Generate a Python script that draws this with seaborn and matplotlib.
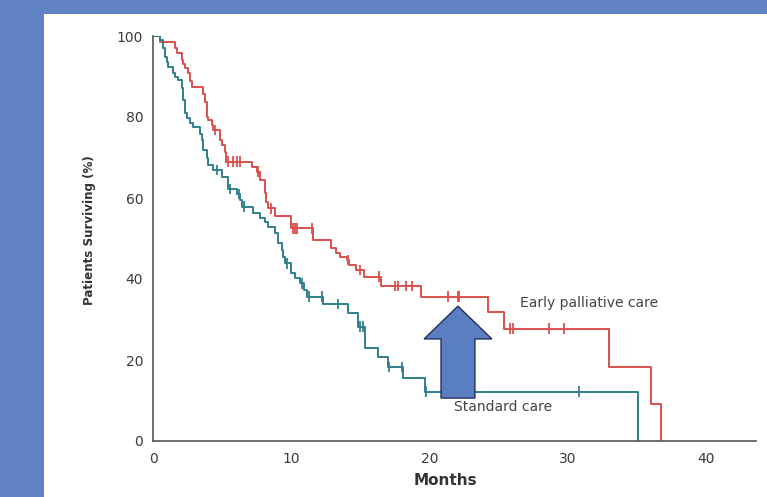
import numpy as np
import pandas as pd
import matplotlib
matplotlib.use("Agg")
import matplotlib.pyplot as plt
from matplotlib.patches import Rectangle, FancyArrow
import seaborn as sns

# ---- data ----
early_t = [0, 0.5, 1.6, 1.7, 2.07, 2.2, 2.3, 2.55, 2.7, 2.8, 3.6, 3.76, 3.88, 4.0, 4.24, 4.36,
           4.84, 4.97, 5.2, 5.28, 7.14, 7.5, 7.74, 8.1, 8.2, 8.34, 8.8, 10.0, 11.6, 12.9, 13.2,
           13.5, 14.0, 14.2, 14.7, 15.25, 16.5, 19.35, 24.25, 25.4, 33.0, 36.0, 36.7]
early_s = [100, 98.5, 97, 95.7, 94, 93.2, 92, 90.8, 89, 87.5, 85.8, 83.8, 80.1, 79.3, 78, 76.8,
           74.3, 73.1, 71.4, 69.0, 67.7, 66.5, 64.4, 61.2, 59.1, 57.5, 55.6, 52.5, 49.6, 47.6, 46.3,
           45.5, 44.7, 43.5, 42.2, 40.6, 38.3, 35.6, 31.9, 27.7, 18.3, 9.1, 0]
early_cens = [4.48, 5.45, 5.8, 6.05, 6.3, 7.6, 8.55, 10.15, 10.3, 10.4, 11.5, 14.1, 15.0, 16.35,
              17.5, 17.7, 18.3, 18.7, 21.3, 22.05, 22.15, 25.8, 26.0, 28.6, 29.7]

std_t = [0, 0.5, 0.7, 0.87, 1.0, 1.1, 1.47, 1.6, 1.83, 2.07, 2.15, 2.2, 2.3, 2.43, 2.67, 2.9,
         3.4, 3.52, 3.6, 3.64, 3.88, 4.0, 4.36, 4.97, 5.45, 6.05, 6.3, 6.45, 7.25, 7.74, 8.1,
         8.34, 8.8, 9.06, 9.3, 9.4, 9.55, 10.0, 10.3, 10.6, 10.9, 11.1, 12.3, 14.1, 14.85,
         15.3, 15.35, 16.3, 17.0, 18.05, 19.7, 35.1]
std_s = [100, 99, 97, 94.9, 93.6, 92.4, 90.8, 90, 89.1, 87.1, 85.5, 84.2, 81, 79.7, 78.4, 77.6,
         75.9, 74.3, 73, 71.9, 69.8, 68.1, 66.9, 65.3, 62.2, 61.0, 59.5, 57.9, 56.2, 55.0, 54.1,
         52.9, 51.3, 48.8, 47.2, 45.5, 43.9, 41.4, 40.2, 38.9, 37.3, 35.6, 33.8, 31.5, 28.2,
         25.8, 22.9, 20.8, 18.3, 15.5, 12.2, 0]
std_cens = [4.6, 5.6, 6.2, 6.55, 9.67, 10.75, 11.25, 12.2, 13.4, 15.0, 15.15, 17.1, 18.0,
            19.75, 21.9, 30.8]

x_ticks = [0, 10, 20, 30, 40]
y_ticks = [0, 20, 40, 60, 80, 100]
labels = ["Early palliative care", "Standard care"]

# ---- build tables ----
curves = pd.concat([
    pd.DataFrame({"Months": early_t, "Surv": early_s, "Group": labels[0]}),
    pd.DataFrame({"Months": std_t, "Surv": std_s, "Group": labels[1]}),
], ignore_index=True)


def step_value(t_list, s_list, tc):
    t = np.asarray(t_list)
    s = np.asarray(s_list)
    idx = np.searchsorted(t, tc, side="right") - 1
    return s[idx]


cens = pd.concat([
    pd.DataFrame({"Months": early_cens, "Surv": step_value(early_t, early_s, early_cens),
                  "Group": labels[0]}),
    pd.DataFrame({"Months": std_cens, "Surv": step_value(std_t, std_s, std_cens),
                  "Group": labels[1]}),
], ignore_index=True)

RED = "#D9504C"
TEAL = "#2F7F8E"
palette = {labels[0]: RED, labels[1]: TEAL}

sns.set_style("white")
plt.rcParams["font.family"] = ["DejaVu Sans"]

W, H = 767, 497
fig = plt.figure(figsize=(W / 100, H / 100), dpi=100)
fig.patch.set_facecolor("#6283C2")
fig.patches.append(Rectangle((44 / W, 0), 1, 1 - 14 / H, transform=fig.transFigure,
                             facecolor="white", edgecolor="none", zorder=-10))

ax = fig.add_axes([153 / W, (H - 441) / H, (756 - 153) / W, (441 - 36) / H])
ax.set_zorder(5)
ax.set_facecolor("none")

sns.lineplot(data=curves, x="Months", y="Surv", hue="Group", palette=palette,
             estimator=None, sort=False, drawstyle="steps-post", lw=1.4,
             legend=False, ax=ax)
sns.scatterplot(data=cens, x="Months", y="Surv", hue="Group", palette=palette,
                marker="|", s=60, linewidth=1.3, legend=False, ax=ax, zorder=3)

ax.set_xlim(0, 43.6)
ax.set_ylim(0, 100)
ax.set_xticks(x_ticks)
ax.set_yticks(y_ticks)
for s in ["top", "right"]:
    ax.spines[s].set_visible(False)
for s in ["left", "bottom"]:
    ax.spines[s].set_color("#555555")
    ax.spines[s].set_linewidth(1.2)
ax.tick_params(axis="both", length=6, width=1.1, color="#555555", labelsize=10,
               labelcolor="#3a3a3a", pad=1, direction="out")
ax.tick_params(axis="x", pad=2)

ax.set_xlabel("Months", fontsize=11, fontweight="bold", color="#333333")
ax.xaxis.set_label_coords((445 - 153) / 603, -0.08)
ax.set_ylabel("Patients Surviving (%)", fontsize=8.6, fontweight="bold", color="#333333")
ax.yaxis.set_label_coords(-0.094, 0.52)

ax.text(26.5, 34.1, labels[0], fontsize=10, color="#444444", va="center", ha="left")
ax.text(21.8, 8.4, labels[1], fontsize=10, color="#444444", va="center", ha="left")

arrow = FancyArrow(22.05, 10.6, 0, 22.7, width=2.45, head_width=4.9, head_length=8.1,
                   length_includes_head=True, facecolor="#5B7EC2", edgecolor="#1F2F60",
                   linewidth=1.0, zorder=4)
ax.add_patch(arrow)

fig.savefig("out.png", dpi=100)
